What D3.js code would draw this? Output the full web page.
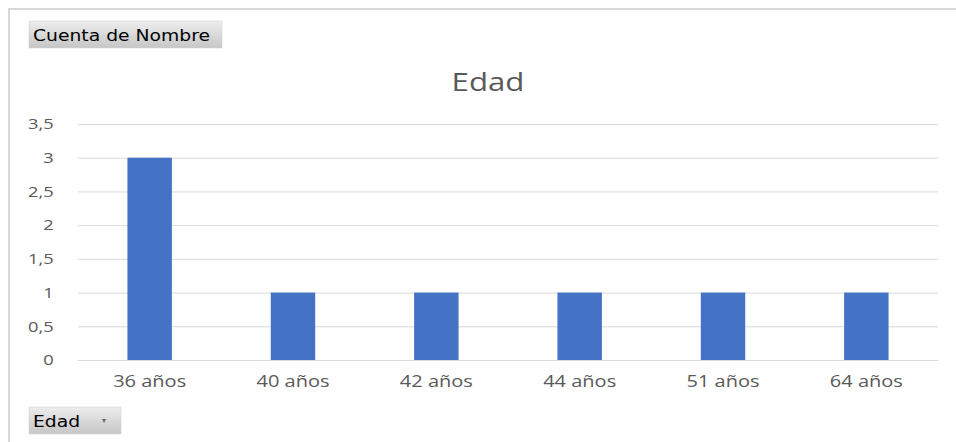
<!DOCTYPE html>
<html>
<head>
<meta charset="utf-8">
<script src="https://cdn.jsdelivr.net/npm/d3@7"></script>
<style>
  body { margin: 0; background: #fff; }
  svg { display: block; }
</style>
</head>
<body>
<div id="chart"></div>
<script>
var w = 956;
var h = 442;

var categories = ["36 años", "40 años", "42 años", "44 años", "51 años", "64 años"];
var counts = [3, 1, 1, 1, 1, 1];
var yTicks = [0, 0.5, 1, 1.5, 2, 2.5, 3, 3.5];

var margin = { left: 78, right: 18, top: 124, bottom: 82 };
var stretch = 1.22; // el original está estirado en horizontal

var svg = d3.select("#chart")
            .append("svg")
            .attr("width", w)
            .attr("height", h);

// marco del gráfico
svg.append("path")
    .attr("d", "M9," + h + " V9 H" + w)
    .attr("fill", "none")
    .attr("stroke", "#d9d9d9")
    .attr("stroke-width", 2);

var xScale = d3.scaleBand()
                .domain(categories)
                .range([margin.left, w - margin.right])
                .paddingInner(0.69)
                .paddingOuter(0.345);

var yScale = d3.scaleLinear()
                .domain([0, 3.5])
                .range([h - margin.bottom, margin.top]);

var fmt = function (d) { return String(d).replace(".", ","); };

// líneas de cuadrícula y eje y
var yAxis = svg.append("g")
    .attr("transform", "translate(" + margin.left + ",0)")
    .call(d3.axisLeft(yScale)
        .tickValues(yTicks)
        .tickFormat(fmt)
        .tickSize(-(w - margin.left - margin.right))
        .tickPadding(20));
yAxis.select(".domain").remove();
yAxis.selectAll("line").attr("stroke", "#d9d9d9").attr("stroke-width", 1);
yAxis.selectAll("text")
    .attr("fill", "#595959")
    .attr("font-family", "Open Sans, sans-serif")
    .attr("font-size", "15px")
    .attr("transform", "scale(" + stretch + ",1)");

svg.selectAll("rect.bar")
    .data(counts)
    .enter()
    .append("rect")
    .attr("class", "bar")
    .attr("x", function (d, i) { return xScale(categories[i]); })
    .attr("y", function (d) { return yScale(d); })
    .attr("width", xScale.bandwidth())
    .attr("height", function (d) { return yScale(0) - yScale(d); })
    .attr("fill", "#4472c4");

// eje x
var xAxis = svg.append("g")
    .attr("transform", "translate(0," + yScale(0) + ")")
    .call(d3.axisBottom(xScale).tickSize(0).tickPadding(16));
xAxis.select(".domain").attr("stroke", "#d9d9d9");
xAxis.selectAll("text")
    .attr("fill", "#595959")
    .attr("font-family", "Open Sans, sans-serif")
    .attr("font-size", "16px")
    .attr("transform", "scale(1.25,1)");

svg.append("text")
    .attr("transform", "translate(488,91) scale(1.2,1)")
    .attr("text-anchor", "middle")
    .attr("font-family", "Open Sans, sans-serif")
    .attr("font-size", "26px")
    .attr("fill", "#595959")
    .text("Edad");

// botones de campo
var grad = svg.append("defs").append("linearGradient")
    .attr("id", "btn")
    .attr("x1", 0).attr("y1", 0).attr("x2", 0).attr("y2", 1);
grad.append("stop").attr("offset", "0%").attr("stop-color", "#ededed");
grad.append("stop").attr("offset", "100%").attr("stop-color", "#c6c6c6");

function boton(x, y, bw, bh, label) {
    svg.append("rect")
        .attr("x", x).attr("y", y)
        .attr("width", bw).attr("height", bh)
        .attr("fill", "url(#btn)")
        .attr("stroke", "#d0d0d0")
        .attr("stroke-width", 0.5);
    svg.append("text")
        .attr("transform", "translate(" + (x + 4) + "," + (y + bh / 2 + 6) + ") scale(1.25,1)")
        .attr("font-family", "DejaVu Sans, sans-serif")
        .attr("font-size", "15px")
        .attr("fill", "#000")
        .text(label);
}
boton(29, 21, 193, 27, "Cuenta de Nombre");
boton(29, 407, 92, 27, "Edad");
svg.append("text")
    .attr("x", 104).attr("y", 423)
    .attr("text-anchor", "middle")
    .attr("font-family", "DejaVu Sans, sans-serif")
    .attr("font-size", "8px")
    .attr("fill", "#666")
    .text("▾");
</script>
</body>
</html>
